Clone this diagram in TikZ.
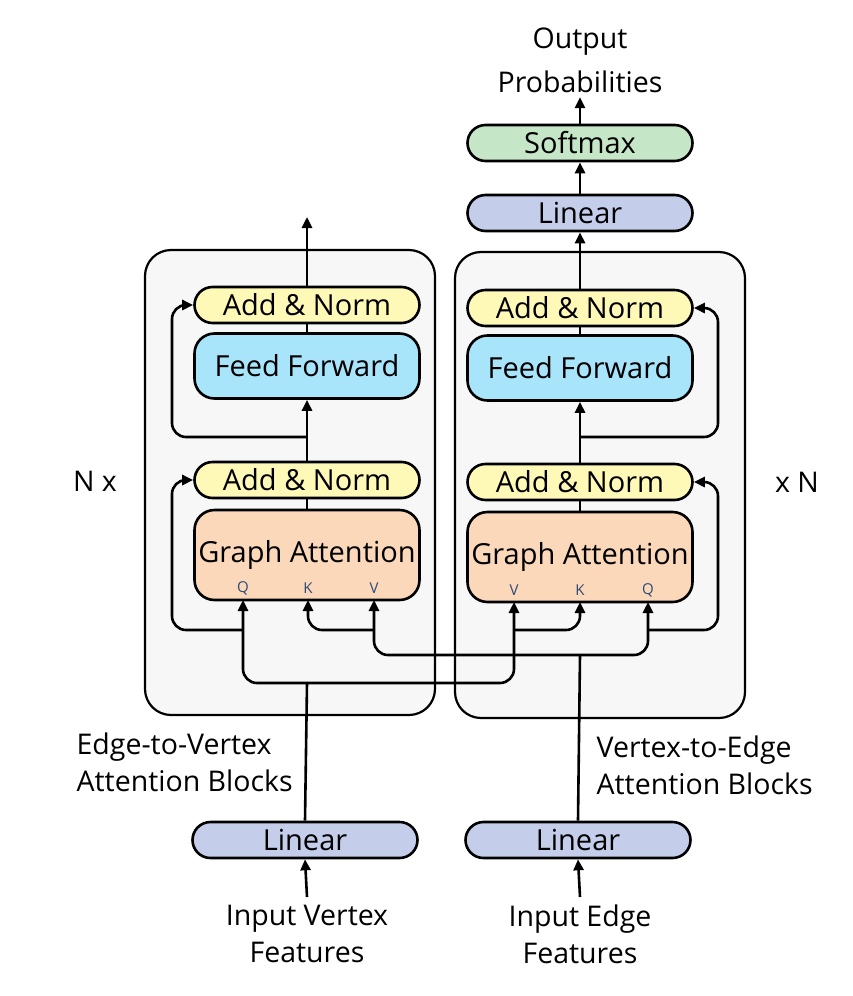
\documentclass[tikz,border=0pt]{standalone}
\usepackage{fontspec}
\setmainfont{Open Sans}
\usetikzlibrary{arrows.meta,calc}
\definecolor{blockbg}{HTML}{F7F7F7}
\definecolor{addcol}{HTML}{FFF9B8}
\definecolor{ffcol}{HTML}{A8E4FA}
\definecolor{gacol}{HTML}{FBD8BA}
\definecolor{lincol}{HTML}{C4CEEB}
\definecolor{smcol}{HTML}{C6E6C8}
\definecolor{qkvcol}{HTML}{2E4A78}
\tikzset{
  base/.style={draw=black, line width=2.6pt, minimum width=225pt, inner sep=0pt, font=\fontsize{29}{32}\selectfont},
  pill/.style={base, minimum height=36pt, rounded corners=18pt},
  addnorm/.style={pill, fill=addcol},
  linbox/.style={pill, fill=lincol},
  smbox/.style={pill, fill=smcol},
  ffbox/.style={base, fill=ffcol, minimum height=65pt, rounded corners=20pt},
  gabox/.style={base, fill=gacol, minimum height=90pt, rounded corners=20pt},
  blockbox/.style={draw=black, line width=2.2pt, fill=blockbg, rounded corners=26pt},
  arr/.style={-{Triangle[length=11pt,width=10pt]}},
  rc/.style={rounded corners=14pt},
  lbl/.style={font=\fontsize{28.5}{37}\selectfont, align=center},
  qkv/.style={font=\fontsize{15}{16}\selectfont, text=qkvcol, inner sep=0pt}
}
\begin{document}
\begin{tikzpicture}[x=1pt, y=-1pt, line width=2.6pt]
\useasboundingbox (0,0) rectangle (852,996);
% blocks
\draw[blockbox] (145,250) rectangle (435,715);
\draw[blockbox] (455,252) rectangle (745,718);
% left stack
\node[addnorm] (lan2) at (307,305) {Add \& Norm};
\node[ffbox] (lff) at (307,366) {Feed Forward};
\node[addnorm] (lan1) at (307,480) {Add \& Norm};
\node[gabox] (lga) at (307,555) {};
\node[font=\fontsize{29}{32}\selectfont] (lgat) at (307,555) {Graph Attention};
\node[linbox] (llin) at (305,840) {Linear};
% right stack
\node[smbox] (rsm) at (580,143) {Softmax};
\node[linbox] (rtop) at (580,213) {Linear};
\node[addnorm] (ran2) at (580,308) {Add \& Norm};
\node[ffbox] (rff) at (580,368) {Feed Forward};
\node[addnorm] (ran1) at (580,482) {Add \& Norm};
\node[gabox] (rga) at (580,557) {};
\node[font=\fontsize{29}{32}\selectfont] (rgat) at (580,557) {Graph Attention};
\node[linbox] (rlin) at (578,840) {Linear};
% QKV labels
\node[qkv] (lql) at (243,588) {Q};
\node[qkv] (lkl) at (308,588) {K};
\node[qkv] (lvl) at (374,588) {V};
\node[qkv] (rvl) at (514,590) {V};
\node[qkv] (rkl) at (580,590) {K};
\node[qkv] (rql) at (648,590) {Q};
% input anchors
\coordinate (lq) at (243,600);
\coordinate (lk) at (308,600);
\coordinate (lv) at (374,600);
\coordinate (rv) at (514,602);
\coordinate (rk) at (580,602);
\coordinate (rq) at (648,602);
\coordinate (vj) at (307,683);
\coordinate (ej) at (580,655);
% text labels
\node[lbl, font=\fontsize{28.5}{44}\selectfont] (outp) at (580,60) {Output\\Probabilities};
\node[lbl] (nx) at (95,481) {N x};
\node[lbl] (xn) at (797,482) {x N};
\node[lbl, align=left, anchor=west] (e2v) at (72,762) {Edge-to-Vertex\\Attention Blocks};
\node[lbl, align=left, anchor=west] (v2e) at (592,765) {Vertex-to-Edge\\Attention Blocks};
\node[lbl] (inv) at (307,934) {Input Vertex\\Features};
\node[lbl] (ine) at (580,934) {Input Edge\\Features};
\coordinate (invt) at (307,897);
\coordinate (inet) at (580,897);
\coordinate (lout) at (307,217);
% left connectors
\draw (lga.north) -- (lan1.south);
\draw[arr] (lan1.north) -- (lff.south);
\draw (lff.north) -- (lan2.south);
\draw[arr] (lan2.north) -- (lout);
\draw[arr,rc] (307,437) -| (172,380) |- (lan2.west);
% right connectors
\draw (rga.north) -- (ran1.south);
\draw[arr] (ran1.north) -- (rff.south);
\draw (rff.north) -- (ran2.south);
\draw[arr] (ran2.north) -- (rtop.south);
\draw[arr] (rtop.north) -- (rsm.south);
\draw[arr] (rsm.north) -- (outp.south);
\draw[arr,rc] (580,437) -| (718,380) |- (ran2.east);
% inputs
\draw[arr] (invt) -- (llin.south);
\draw[arr] (inet) -- (rlin.south);
% vertex features routing
\draw (llin.north) -- (vj);
\draw[arr,rc] (vj) -| (lq);
\draw[arr,rc] (vj) -| (rv);
% edge features routing
\draw (rlin.north) -- (ej);
\draw[arr,rc] (ej) -| (lv);
\draw[arr,rc] (ej) -| (rq);
% branches
\draw[arr,rc] (374,630) -| (lk);
\draw[arr,rc] (514,630) -| (rk);
% residuals
\draw[arr,rc] (243,630) -| (172,560) |- (lan1.west);
\draw[arr,rc] (648,630) -| (718,560) |- (ran1.east);
\end{tikzpicture}
\end{document}
